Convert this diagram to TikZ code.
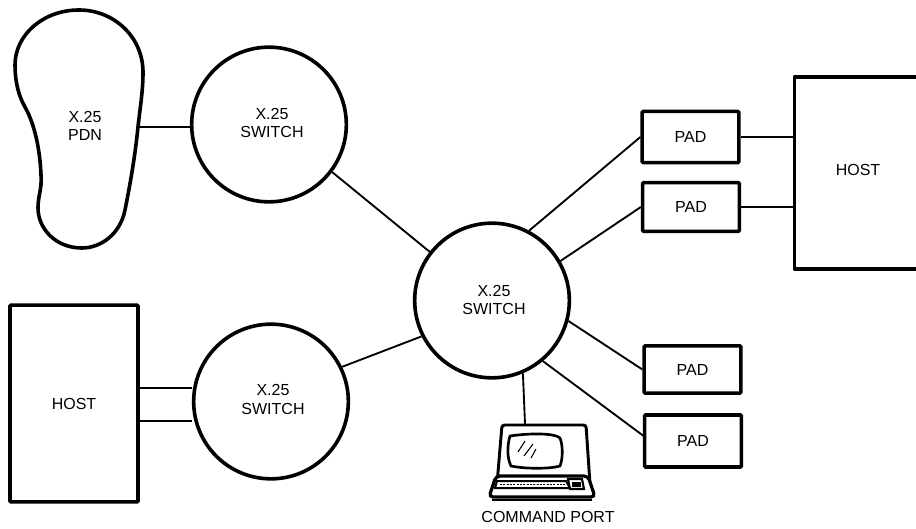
\documentclass[tikz,border=0pt]{standalone}
\usepackage{fontspec}
\setmainfont{Liberation Sans}
\begin{document}
\begin{tikzpicture}[x=0.75pt,y=-0.75pt,
  lblfont/.style={font=\fontsize{12pt}{13.6pt}\selectfont,align=center,text=black},
  heavy/.style={draw=black,line width=2.7pt,fill=white},
  conn/.style={draw=black,line width=1.4pt},
  lbl/.style={lblfont,inner sep=0pt},
  switchnode/.style={heavy,circle,minimum size=116pt,inner sep=0pt,lblfont},
  padbox/.style={heavy,rectangle,minimum width=72.5pt,inner sep=0pt,lblfont,rounded corners=0.8pt},
  hostbox/.style={heavy,rectangle,inner sep=0pt,lblfont,rounded corners=0.8pt}]
\useasboundingbox (0,0) rectangle (916,528);
\fill[white] (0,0) rectangle (916,528);
% PDN blob
\draw[line width=2.7pt,fill=white] (79,10)
  .. controls (115,10) and (143,38) .. (143,72)
  .. controls (143,92) and (140,108) .. (138,127)
  .. controls (135,157) and (130,185) .. (125,210)
  .. controls (120,235) and (100,248) .. (82,248)
  .. controls (55,248) and (38,228) .. (38,208)
  .. controls (38,195) and (42,190) .. (41,175)
  .. controls (40,150) and (35,125) .. (25,107)
  .. controls (18,95) and (15,80) .. (15,65)
  .. controls (15,35) and (43,10) .. (79,10) -- cycle;
\coordinate (pdnport) at (139,127);
\node[lbl] (pdnlabel) at (85,126) {X.25\\PDN};
% switches
\node[switchnode] (swa) at (269,124.5) {};
\node[switchnode] (swb) at (492,300.5) {};
\node[switchnode] (swc) at (271,401.5) {};
\node[lbl] (swalabel) at (272,123) {X.25\\SWITCH};
\node[lbl] (swblabel) at (494,300) {X.25\\SWITCH};
\node[lbl] (swclabel) at (273,399.5) {X.25\\SWITCH};
% hosts
\node[hostbox,minimum width=96pt,minimum height=147.5pt] (hostl) at (74,403.5) {HOST};
\draw[heavy,line join=round] (918,77) -- (794.5,77) -- (794.5,269) -- (918,269);
\coordinate (hostrtop) at (794,137);
\coordinate (hostrbot) at (794,207);
\node[lbl] (hostrlabel) at (858,170) {HOST};
% pads
\node[padbox,minimum height=38.5pt] (pada) at (690.5,137) {PAD};
\node[padbox,minimum height=36.5pt] (padb) at (691,207) {PAD};
\node[padbox,minimum height=35.5pt] (padc) at (692.5,369.5) {PAD};
\node[padbox,minimum height=39pt] (padd) at (693,441) {PAD};
% terminal
\draw[line width=2.2pt,fill=white,rounded corners=2pt] (502,425) -- (586,425) -- (590,484) -- (497,484) -- cycle;
\draw[line width=2pt,fill=white] (510,436) .. controls (530,433) and (555,433) .. (560,438)
  .. controls (563,446) and (563,458) .. (560,466)
  .. controls (550,469) and (525,469) .. (511,466)
  .. controls (507,458) and (507,446) .. (510,436) -- cycle;
\draw[line width=0.8pt] (518,452) -- (525,441) (524,456) -- (533,444) (531,458) -- (536,449);
\draw[line width=2.4pt,fill=white,rounded corners=3pt] (496,476) -- (588,476) -- (595,497) -- (489,497) -- cycle;
\draw[line width=1.5pt,fill=white] (497,481) -- (566,481) -- (570,488) -- (495,488) -- cycle;
\draw[line width=1.4pt,dash pattern=on 1.5pt off 1pt] (500,484.5) -- (565,484.5);
\draw[line width=1.6pt,fill=white] (568,479) -- (582,479) -- (584,489) -- (570,489) -- cycle;
\fill[black] (572,482) rectangle (581,487);
\draw[line width=1pt] (492,500) -- (592,500);
\node[lbl] (cmd) at (548,516.5) {COMMAND PORT};
\coordinate (termtop) at (525,424);
\coordinate (paddin) at (645,437);
% connectors
\draw[conn] (pdnport) -- (swa.west |- pdnport);
\draw[conn] (swa.-37) -- (swb.142.5);
\draw[conn] (swc.26.6) -- (swb.207.2);
\draw[conn] (swb.62.3) -- (pada.west);
\draw[conn] (swb.30.9) -- (padb.west);
\draw[conn] (swb.-15.3) -- (padc.west);
\draw[conn] (swb.-50.9) -- (paddin);
\draw[conn] (swb.-67.9) -- (termtop);
\draw[conn] (pada.east) -- (hostrtop);
\draw[conn] (padb.east) -- (hostrbot);
\coordinate (hlt) at (138,388);
\coordinate (hlb) at (138,421);
\draw[conn] (hlt) -- (hlt -| swc.west);
\draw[conn] (hlb) -- (hlb -| swc.west);
\end{tikzpicture}
\end{document}
